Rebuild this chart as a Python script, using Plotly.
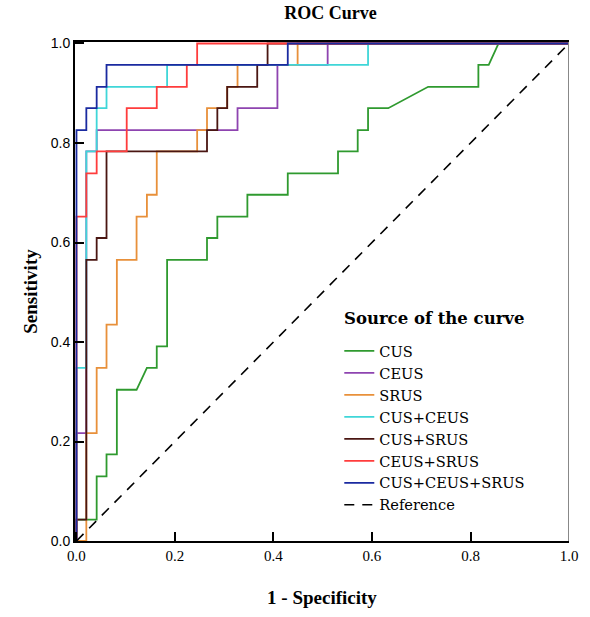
import plotly.graph_objects as go

# ---- data (ROC points: 1 - specificity, sensitivity) ----
series_names = ["CUS", "CEUS", "SRUS", "CUS+CEUS", "CUS+SRUS", "CEUS+SRUS", "CUS+CEUS+SRUS"]
series_colors = ["#2f9a2f", "#8e44b0", "#e8903a", "#3fd6d8", "#4a1612", "#ff3c3c", "#1a2aa0"]

cus_x = [0, 0, 0.041, 0.041, 0.061, 0.061, 0.082, 0.082, 0.122, 0.143, 0.163, 0.163, 0.184, 0.184,
         0.265, 0.265, 0.286, 0.286, 0.347, 0.347, 0.429, 0.429, 0.531, 0.531, 0.571, 0.571,
         0.592, 0.592, 0.633, 0.714, 0.816, 0.816, 0.837, 0.857, 1]
cus_y = [0, 0.043, 0.043, 0.130, 0.130, 0.174, 0.174, 0.304, 0.304, 0.348, 0.348, 0.391, 0.391, 0.565,
         0.565, 0.609, 0.609, 0.652, 0.652, 0.696, 0.696, 0.739, 0.739, 0.783, 0.783, 0.826,
         0.826, 0.870, 0.870, 0.913, 0.913, 0.957, 0.957, 1, 1]

ceus_x = [0, 0, 0.020, 0.020, 0.041, 0.041, 0.327, 0.327, 0.408, 0.408, 0.510, 0.510, 1]
ceus_y = [0, 0.217, 0.217, 0.783, 0.783, 0.826, 0.826, 0.870, 0.870, 0.957, 0.957, 1, 1]

srus_x = [0, 0.020, 0.020, 0.041, 0.041, 0.061, 0.061, 0.082, 0.082, 0.122, 0.122, 0.143, 0.143,
          0.163, 0.163, 0.245, 0.245, 0.265, 0.265, 0.306, 0.306, 0.327, 0.327, 0.449, 0.449, 1]
srus_y = [0, 0, 0.217, 0.217, 0.348, 0.348, 0.435, 0.435, 0.565, 0.565, 0.652, 0.652, 0.696,
          0.696, 0.783, 0.783, 0.826, 0.826, 0.870, 0.870, 0.913, 0.913, 0.957, 0.957, 1, 1]

cus_ceus_x = [0, 0, 0.020, 0.020, 0.041, 0.041, 0.061, 0.061, 0.184, 0.184, 0.592, 0.592, 1]
cus_ceus_y = [0, 0.348, 0.348, 0.783, 0.783, 0.870, 0.870, 0.913, 0.913, 0.957, 0.957, 1, 1]

cus_srus_x = [0, 0, 0.020, 0.020, 0.041, 0.041, 0.061, 0.061, 0.265, 0.265, 0.286, 0.286,
              0.306, 0.306, 0.367, 0.367, 0.388, 0.388, 1]
cus_srus_y = [0, 0.043, 0.043, 0.565, 0.565, 0.609, 0.609, 0.783, 0.783, 0.826, 0.826, 0.870,
              0.870, 0.913, 0.913, 0.957, 0.957, 1, 1]

ceus_srus_x = [0, 0, 0.020, 0.020, 0.041, 0.041, 0.102, 0.102, 0.163, 0.163, 0.224, 0.224, 0.245, 0.245, 1]
ceus_srus_y = [0, 0.652, 0.652, 0.739, 0.739, 0.783, 0.783, 0.870, 0.870, 0.913, 0.913, 0.957, 0.957, 1, 1]

all3_x = [0, 0, 0.020, 0.020, 0.041, 0.041, 0.061, 0.061, 0.429, 0.429, 1]
all3_y = [0, 0.826, 0.826, 0.870, 0.870, 0.913, 0.913, 0.957, 0.957, 1, 1]

ref_x = [0, 1]
ref_y = [0, 1]

tick_vals = [0, 0.2, 0.4, 0.6, 0.8, 1.0]
tick_text = ["0.0", "0.2", "0.4", "0.6", "0.8", "1.0"]

xs = [cus_x, ceus_x, srus_x, cus_ceus_x, cus_srus_x, ceus_srus_x, all3_x]
ys = [cus_y, ceus_y, srus_y, cus_ceus_y, cus_srus_y, ceus_srus_y, all3_y]

fig = go.Figure()
for name, color, x, y in zip(series_names, series_colors, xs, ys):
    fig.add_trace(go.Scatter(x=x, y=y, mode="lines", name=name,
                             line=dict(color=color, width=1.8)))
fig.add_trace(go.Scatter(x=ref_x, y=ref_y, mode="lines", name="Reference",
                         line=dict(color="black", width=1.6, dash="10px,8px")))

serif = "Liberation Serif"
fig.update_layout(
    width=590, height=617,
    margin=dict(l=75, r=13, t=42, b=74),
    paper_bgcolor="white", plot_bgcolor="white",
    title=dict(text="<b>ROC Curve</b>", x=0.56, xanchor="center", y=0.99, yanchor="top",
               font=dict(family=serif, size=18, color="black")),
    legend=dict(font=dict(family="DejaVu Serif", size=14.6, color="black"),
                x=0.535, xanchor="left", y=0.413, yanchor="top",
                bgcolor="rgba(0,0,0,0)", tracegroupgap=0, itemwidth=30),
    showlegend=True,
)
fig.add_annotation(text="<b>Source of the curve</b>", xref="paper", yref="paper",
                   x=0.54, xanchor="left", y=0.445, yanchor="middle", showarrow=False,
                   font=dict(family="DejaVu Serif", size=16.5, color="black"))
fig.update_xaxes(range=[-0.003, 1.0], tickvals=tick_vals, ticktext=tick_text,
                 ticks="inside", ticklen=9, tickwidth=2, tickcolor="black",
                 showline=True, linecolor="black", linewidth=2, mirror=True,
                 showgrid=False, zeroline=False,
                 tickfont=dict(family=serif, size=15, color="black"),
                 title=dict(text="<b>1 - Specificity</b>", standoff=28,
                            font=dict(family=serif, size=19, color="black")))
fig.update_yaxes(range=[0, 1.003], tickvals=tick_vals, ticktext=tick_text,
                 ticks="inside", ticklen=9, tickwidth=2, tickcolor="black",
                 showline=True, linecolor="black", linewidth=2, mirror=False,
                 showgrid=False, zeroline=False,
                 tickfont=dict(family="Liberation Sans", size=14, color="black"),
                 title=dict(text="<b>Sensitivity</b>", standoff=8,
                            font=dict(family=serif, size=19, color="black")))
fig.add_shape(type="line", xref="x", yref="paper", x0=1, x1=1, y0=0, y1=1,
              line=dict(color="#888888", width=2))

fig.write_html("out.html")
